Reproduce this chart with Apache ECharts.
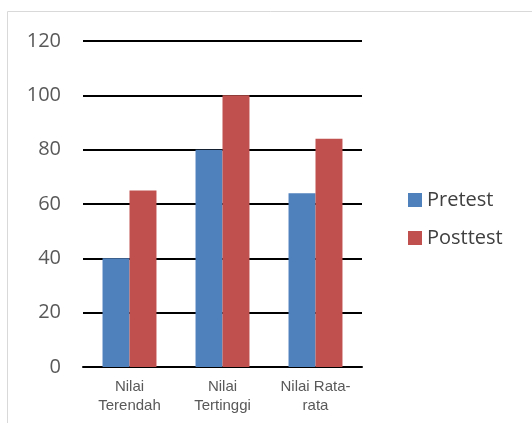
<!DOCTYPE html>
<html lang="en">
<head>
    <meta charset="UTF-8">
    <title>Pretest vs Posttest</title>
    <script src="https://cdn.jsdelivr.net/npm/echarts@6/dist/echarts.min.js"></script>
    <style>
        html, body { margin: 0; padding: 0; background: #fff; }
    </style>
</head>
<body>
    <div id="main" style="width: 532px;height:423px;"></div>
    <script type="text/javascript">
        // chart data
        const categories = ['Nilai\nTerendah', 'Nilai\nTertinggi', 'Nilai Rata-\nrata'];
        const pretest = [40, 80, 64];
        const posttest = [65, 100, 84];
        const yTicks = { min: 0, max: 120, step: 20 };

        const myChart = echarts.init(document.getElementById('main'));

        const options = {
            animation: false,
            textStyle: { fontFamily: 'Open Sans' },
            graphic: [{
                type: 'rect',
                shape: { x: 7.5, y: 11.5, width: 600, height: 600 },
                style: { fill: 'none', stroke: '#d9d9d9', lineWidth: 1 },
                silent: true
            }],
            grid: { left: 83, right: 170, top: 41, bottom: 56 },
            legend: {
                orient: 'vertical',
                left: 403,
                top: 185,
                itemWidth: 14,
                itemHeight: 14,
                itemGap: 18,
                icon: 'rect',
                textStyle: { fontSize: 20, color: '#404040', fontFamily: 'Open Sans' },
                data: ['Pretest', 'Posttest']
            },
            xAxis: {
                type: 'category',
                data: categories,
                axisTick: { show: false },
                axisLine: { lineStyle: { color: '#000', width: 2 } },
                axisLabel: {
                    color: '#595959',
                    fontFamily: 'Liberation Sans',
                    fontSize: 15,
                    lineHeight: 19,
                    margin: 10
                }
            },
            yAxis: {
                type: 'value',
                min: yTicks.min,
                max: yTicks.max,
                interval: yTicks.step,
                axisLine: { show: false },
                axisTick: { show: false },
                axisLabel: { color: '#595959', fontSize: 20, margin: 22 },
                splitLine: { lineStyle: { color: '#000', width: 2 } }
            },
            series: [{
                name: 'Pretest',
                type: 'bar',
                data: pretest,
                barGap: '0%',
                barCategoryGap: '42%',
                itemStyle: { color: '#4F81BD' }
            }, {
                name: 'Posttest',
                type: 'bar',
                data: posttest,
                itemStyle: { color: '#C0504D' }
            }]
        };

        myChart.setOption(options);
    </script>
</body>
</html>
